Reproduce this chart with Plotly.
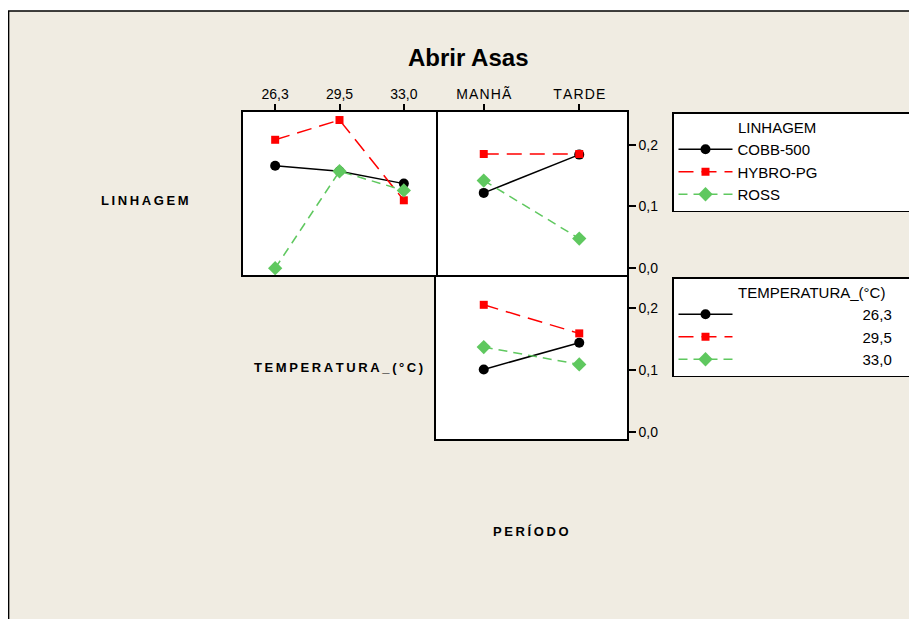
import plotly.graph_objects as go

# ---------------- data ----------------
temp_labels = ["26,3", "29,5", "33,0"]
periodo_labels = ["MANHÃ", "TARDE"]
linhagem_names = ["COBB-500", "HYBRO-PG", "ROSS"]
temp_names = ["26,3", "29,5", "33,0"]

# LINHAGEM x TEMPERATURA
cobb_by_temp = [0.166, 0.157, 0.137]
hybro_by_temp = [0.208, 0.240, 0.110]
ross_by_temp = [0.000, 0.157, 0.126]
# LINHAGEM x PERÍODO
cobb_by_per = [0.122, 0.184]
hybro_by_per = [0.185, 0.185]
ross_by_per = [0.142, 0.048]
# TEMPERATURA x PERÍODO
t263_by_per = [0.101, 0.144]
t295_by_per = [0.205, 0.159]
t330_by_per = [0.137, 0.109]

y_tickvals = [0.0, 0.1, 0.2]
y_ticktext = ["0,0", "0,1", "0,2"]

# ---------------- layout helpers ----------------
OX, OY = 8, 8            # page body margin offset
W, H = 917 - OX, 619 - OY
BG = "#F0ECE2"
FONT = "Liberation Sans"
NB = "\u00a0"
TS = "\u2009"
HS = "\u200a"


def fx(a):
    return (a - OX) / W


def fy(a):
    return 1 - (a - OY) / H


def px_x(a, b):
    return [fx(a), fx(b)]


def px_y(top, bottom):
    return [fy(bottom), fy(top)]


def spaced(s, sep=TS):
    return sep.join(list(s))


styles = [
    dict(color="black", dash="solid", symbol="circle", size=10),
    dict(color="#FF0000", dash="15px,8px", symbol="square", size=8),
    dict(color="#5FC85F", dash="9px,6px", symbol="diamond", size=11),
]

fig = go.Figure()

lin_temp = [cobb_by_temp, hybro_by_temp, ross_by_temp]
lin_per = [cobb_by_per, hybro_by_per, ross_by_per]
temp_per = [t263_by_per, t295_by_per, t330_by_per]

for name, vals, st in zip(linhagem_names, lin_temp, styles):
    fig.add_trace(go.Scatter(
        x=temp_labels, y=vals, mode="lines+markers", name=name + NB * 21,
        line=dict(color=st["color"], dash=st["dash"], width=1.5),
        marker=dict(color=st["color"], symbol=st["symbol"], size=st["size"]),
        xaxis="x", yaxis="y", legend="legend", showlegend=True))

for name, vals, st in zip(linhagem_names, lin_per, styles):
    fig.add_trace(go.Scatter(
        x=periodo_labels, y=vals, mode="lines+markers", name=name,
        line=dict(color=st["color"], dash=st["dash"], width=1.5),
        marker=dict(color=st["color"], symbol=st["symbol"], size=st["size"]),
        xaxis="x2", yaxis="y2", showlegend=False))

for name, vals, st in zip(temp_names, temp_per, styles):
    fig.add_trace(go.Scatter(
        x=periodo_labels, y=vals, mode="lines+markers",
        name=NB * 30 + name + NB * 3,
        line=dict(color=st["color"], dash=st["dash"], width=1.5),
        marker=dict(color=st["color"], symbol=st["symbol"], size=st["size"]),
        xaxis="x3", yaxis="y3", legend="legend2", showlegend=True))

yr = [-0.011, 0.253]
line = dict(showline=True, linecolor="black", linewidth=1.5,
            showgrid=False, zeroline=False)
tickfont = dict(family=FONT, size=14, color="black")
legfont = dict(family=FONT, size=15, color="black")

fig.update_layout(
    width=W, height=H,
    margin=dict(l=0, r=0, t=0, b=0, autoexpand=False),
    paper_bgcolor=BG, plot_bgcolor="white",
    font=dict(family=FONT, color="black"),
    # top-left panel: full box
    xaxis=dict(domain=px_x(243, 436), anchor="y", type="category",
               categoryorder="array", categoryarray=temp_labels,
               range=[-0.5, 2.5], side="top", ticks="outside", ticklen=6,
               tickcolor="black", tickwidth=1.5, tickfont=tickfont,
               mirror=True, **line),
    yaxis=dict(domain=px_y(112, 275), anchor="x", range=yr,
               showticklabels=False, ticks="", mirror=True, **line),
    # top-right panel: left border shared with top-left panel
    xaxis2=dict(domain=px_x(436, 627), anchor="y2", type="category",
                categoryorder="array", categoryarray=periodo_labels,
                range=[-0.5, 1.5], side="top", ticks="outside", ticklen=6,
                tickcolor="black", tickwidth=1.5, tickfont=tickfont,
                tickvals=periodo_labels,
                ticktext=[spaced(p, HS) for p in periodo_labels],
                mirror=True, **line),
    yaxis2=dict(domain=px_y(112, 275), anchor="x2", range=yr, side="right",
                ticks="outside", ticklen=7, tickcolor="black", tickwidth=1.5,
                tickvals=y_tickvals, ticktext=y_ticktext,
                tickfont=tickfont, mirror=False, **line),
    # bottom-right panel: top border shared with top-right panel
    xaxis3=dict(domain=px_x(436, 627), anchor="y3", type="category",
                categoryorder="array", categoryarray=periodo_labels,
                range=[-0.5, 1.5], showticklabels=False, ticks="",
                side="bottom", mirror=False, **line),
    yaxis3=dict(domain=px_y(275, 439), anchor="x3", range=yr, side="right",
                ticks="outside", ticklen=7, tickcolor="black", tickwidth=1.5,
                tickvals=y_tickvals, ticktext=y_ticktext,
                tickfont=tickfont, mirror=True, **line),
    legend=dict(x=fx(672), y=fy(112), xanchor="left", yanchor="top",
                bgcolor="white", bordercolor="black", borderwidth=1.5,
                font=legfont,
                title=dict(text=NB * 15 + "LINHAGEM", font=legfont),
                itemwidth=54, tracegroupgap=0),
    legend2=dict(x=fx(672), y=fy(277), xanchor="left", yanchor="top",
                 bgcolor="white", bordercolor="black", borderwidth=1.5,
                 font=legfont,
                 title=dict(text=NB * 15 + "TEMPERATURA_(°C)", font=legfont),
                 itemwidth=54, tracegroupgap=0),
    showlegend=True,
)

# frame: white strip at top and black border lines
fig.add_shape(type="rect", xref="paper", yref="paper", x0=0, x1=1,
              y0=fy(11), y1=1, fillcolor="white", line_width=0, layer="below")
fig.add_shape(type="line", xref="paper", yref="paper", x0=0, x1=1,
              y0=fy(11), y1=fy(11), line=dict(color="black", width=1.5))
fig.add_shape(type="line", xref="paper", yref="paper", x0=0.6 / W, x1=0.6 / W,
              y0=0, y1=fy(11), line=dict(color="black", width=1.5))

# title and factor labels
fig.add_annotation(text="<b>Abrir Asas</b>", xref="paper", yref="paper",
                   x=fx(468.5), y=fy(57), showarrow=False,
                   xanchor="center", yanchor="middle",
                   font=dict(family=FONT, size=24, color="black"))
for label, cx, cy in [("LINHAGEM", 145, 201),
                      ("TEMPERATURA_(°C)", 338, 367),
                      ("PERÍODO", 530.5, 531)]:
    fig.add_annotation(text="<b>" + spaced(label) + "</b>", xref="paper",
                       yref="paper", x=fx(cx), y=fy(cy), showarrow=False,
                       xanchor="center", yanchor="middle",
                       font=dict(family=FONT, size=13, color="black"))

fig.write_html("out.html")
